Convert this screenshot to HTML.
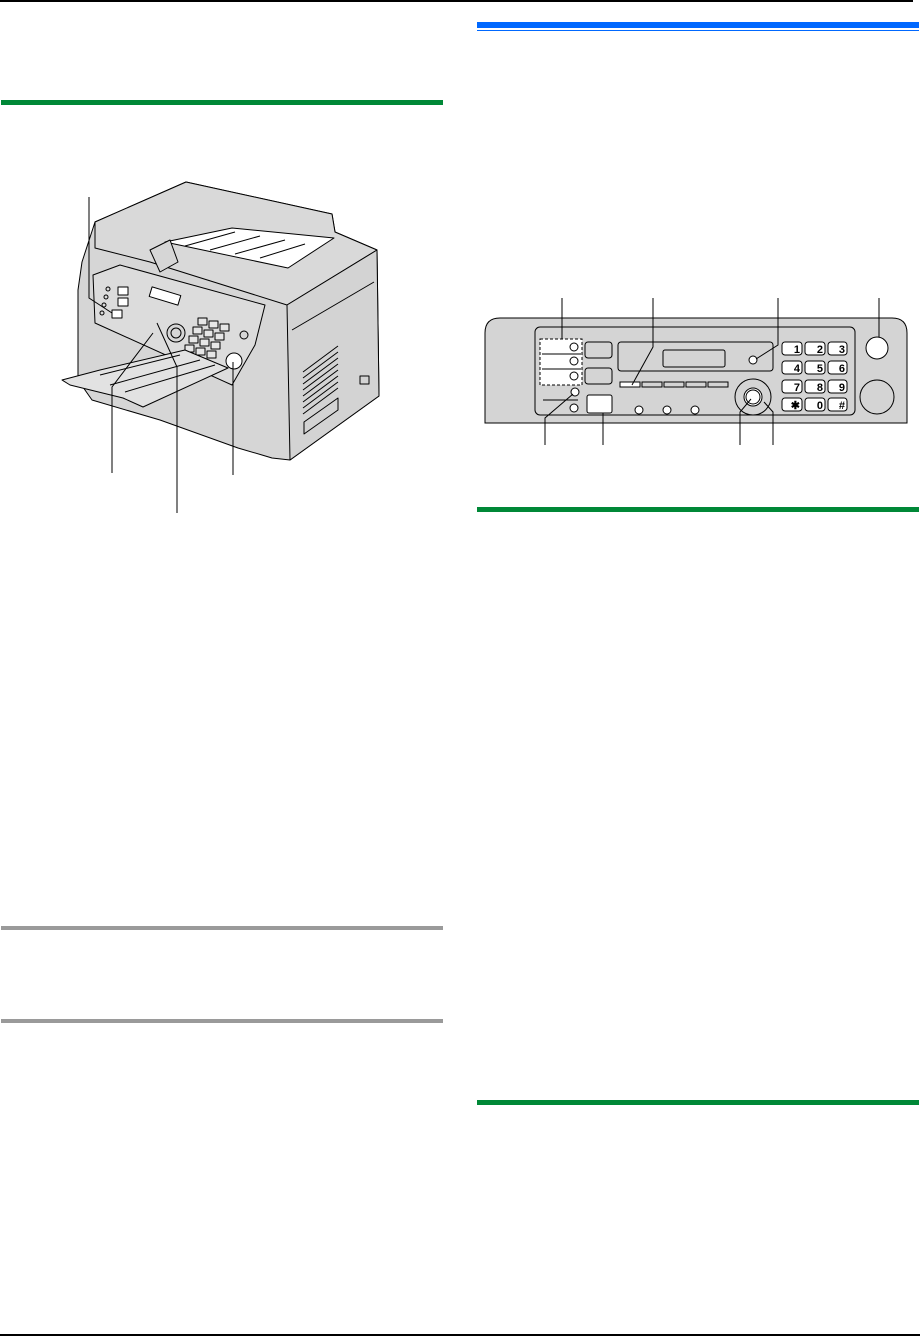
<!DOCTYPE html>
<html><head><meta charset="utf-8"><style>
html,body{margin:0;padding:0;background:#fff;}
body{width:920px;height:1336px;position:relative;overflow:hidden;font-family:"Liberation Sans",sans-serif;}
.b{position:absolute;}
</style></head><body>
<div class="b" style="left:0;top:0;width:913px;height:2px;background:#000"></div>
<div class="b" style="left:477px;top:22px;width:442px;height:6px;background:#0068ff"></div>
<div class="b" style="left:477px;top:30px;width:442px;height:1px;background:#0068ff"></div>
<div class="b" style="left:1px;top:100px;width:442px;height:5px;background:#008837"></div>
<div class="b" style="left:1px;top:926px;width:442px;height:4px;background:#9a9a9a"></div>
<div class="b" style="left:1px;top:1019px;width:442px;height:4px;background:#9a9a9a"></div>
<div class="b" style="left:477px;top:507px;width:442px;height:5px;background:#008837"></div>
<div class="b" style="left:477px;top:1100px;width:442px;height:5px;background:#008837"></div>
<div class="b" style="left:0;top:1334px;width:920px;height:2px;background:#000"></div>

<svg class="b" style="left:0;top:0" width="920" height="1336" viewBox="0 0 920 1336">
<g stroke="#000" stroke-width="1" fill="#d6d6d6" stroke-linejoin="round">
 <path d="M78 290 L82 262 L95 222 L186 182 L332 214 L335 232 L377 250 L379 396 L290 460 L272 458 L262 455 L238 448 L160 420 L92 400 L78 380 Z"/>
 <path d="M95 222 L186 182 L332 214 L335 232 L377 250 L287 305 L150 262 L95 248 Z" fill="#d9d9d9"/>
 <path d="M287 305 L377 250 L379 396 L290 460 Z" fill="#d3d3d3"/>
 <path d="M292 330 L374 282" fill="none"/>
 <g fill="none"><path d="M303 372 L338 346 M303 378 L338 352 M303 384 L338 358 M303 390 L338 364 M303 396 L338 370 M303 402 L338 376 M303 408 L338 382 M303 414 L338 388"/></g>
 <path d="M304 422 L338 398 L338 410 L304 434 Z" fill="none"/>
 <rect x="360" y="376" width="9" height="8" fill="none"/>
 <path d="M165 242 L232 228 L334 238 L288 268 Z" fill="#fff"/>
 <path d="M185 246 L235 232 M210 250 L260 236 M235 254 L285 240 M260 258 L305 244" fill="none"/>
 <path d="M150 250 L170 240 L178 262 L160 272 Z"/>
 <path d="M93 275 L120 265 L265 305 L255 345 L232 385 L95 323 Z" fill="#dcdcdc"/>
 <rect x="150" y="291" width="30" height="10" fill="#fff" transform="rotate(17 165 296)"/>
 <rect x="112" y="310" width="10" height="8" fill="#fff"/>
 <rect x="118" y="287" width="10" height="8" fill="#fff"/>
 <rect x="118" y="298" width="10" height="8" fill="#fff"/>
 <circle cx="108" cy="289" r="2" fill="none"/><circle cx="106" cy="297" r="2" fill="none"/><circle cx="104" cy="305" r="2" fill="none"/><circle cx="102" cy="313" r="2" fill="none"/>
 <circle cx="176" cy="333" r="9"/><circle cx="176" cy="333" r="5"/>
 <g fill="#e6e6e6">
  <rect x="198" y="318" width="9" height="7"/><rect x="209" y="321" width="9" height="7"/><rect x="220" y="324" width="9" height="7"/>
  <rect x="193" y="327" width="9" height="7"/><rect x="204" y="330" width="9" height="7"/><rect x="215" y="333" width="9" height="7"/>
  <rect x="189" y="336" width="9" height="7"/><rect x="200" y="339" width="9" height="7"/><rect x="211" y="342" width="9" height="7"/>
  <rect x="185" y="345" width="9" height="7"/><rect x="196" y="348" width="9" height="7"/><rect x="207" y="351" width="9" height="7"/>
 </g>
 <circle cx="244" cy="335" r="4"/><circle cx="234" cy="361" r="8" fill="#fff"/>
 <path d="M62 380 L100 370 L185 350 L228 368 L143 407 L123 398 L70 385 Z" fill="#e2e2e2"/>
 <path d="M100 375 L180 355 M110 385 L200 360 M125 392 L215 365" fill="none"/>
</g>
<g stroke="#000" stroke-width="1" fill="none">
 <path d="M89 197 L89 298 L112 313"/>
 <path d="M112 473 L112 387 L153 333"/>
 <path d="M177 513 L177 367 L157 323"/>
 <path d="M233 475 L233 362"/>
</g>

<g stroke="#000" stroke-width="1">
 <path d="M485 423 L485 333 Q485 318 500 318 L892 318 Q907 318 907 333 L907 423 Z" fill="#d4d4d4"/>
 <rect x="535" y="327" width="320" height="88" rx="5" fill="#d4d4d4"/>
 <rect x="540" y="339" width="42" height="46" fill="#fff" stroke-dasharray="3,2"/>
 <path d="M542 354 L581 354 M542 369 L581 369 M543 400 L578 400" fill="none"/>
 <circle cx="574" cy="347" r="4" fill="#fff"/><circle cx="574" cy="361" r="4" fill="#fff"/><circle cx="574" cy="376" r="4" fill="#fff"/>
 <circle cx="575" cy="392" r="4" fill="#fff"/><circle cx="574" cy="408" r="4" fill="#fff"/>
 <rect x="585" y="342" width="27" height="16" rx="3" fill="#d4d4d4"/>
 <rect x="585" y="368" width="27" height="16" rx="3" fill="#d4d4d4"/>
 <rect x="587" y="395" width="25" height="18" rx="2" fill="#fff"/>
 <rect x="618" y="342" width="155" height="29" rx="3" fill="#d4d4d4"/>
 <rect x="663" y="350" width="62" height="17" rx="2" fill="#d4d4d4"/>
 <circle cx="753" cy="360" r="4" fill="#fff"/>
 <rect x="620" y="382" width="20" height="5" fill="#fff"/><rect x="642" y="382" width="20" height="5" fill="#d4d4d4"/><rect x="664" y="382" width="20" height="5" fill="#d4d4d4"/><rect x="686" y="382" width="20" height="5" fill="#d4d4d4"/><rect x="708" y="382" width="20" height="5" fill="#d4d4d4"/>
 <circle cx="639" cy="410" r="4" fill="#fff"/><circle cx="667" cy="410" r="4" fill="#fff"/><circle cx="695" cy="410" r="4" fill="#fff"/>
 <circle cx="753" cy="397" r="18" fill="#d4d4d4"/><circle cx="753" cy="397" r="9" fill="#fff"/><circle cx="753" cy="397" r="7" fill="#fff"/>
 <circle cx="877" cy="348" r="11" fill="#fff"/><circle cx="877" cy="397" r="17" fill="#d4d4d4"/>
 <g fill="#fff">
  <rect x="782" y="342" width="20" height="13" rx="3"/><rect x="805" y="342" width="20" height="13" rx="3"/><rect x="828" y="342" width="19" height="13" rx="3"/>
  <rect x="782" y="361" width="20" height="13" rx="3"/><rect x="805" y="361" width="20" height="13" rx="3"/><rect x="828" y="361" width="19" height="13" rx="3"/>
  <rect x="782" y="380" width="20" height="13" rx="3"/><rect x="805" y="380" width="20" height="13" rx="3"/><rect x="828" y="380" width="19" height="13" rx="3"/>
  <rect x="782" y="398" width="20" height="13" rx="3"/><rect x="805" y="398" width="20" height="13" rx="3"/><rect x="828" y="398" width="19" height="13" rx="3"/>
 </g>
</g>
<g font-family="Liberation Sans, sans-serif" font-weight="bold" font-size="11" text-anchor="end" fill="#000">
 <text x="800" y="353">1</text><text x="823" y="353">2</text><text x="845" y="353">3</text>
 <text x="800" y="372">4</text><text x="823" y="372">5</text><text x="845" y="372">6</text>
 <text x="800" y="391">7</text><text x="823" y="391">8</text><text x="845" y="391">9</text>
 <text x="800" y="409">✱</text><text x="823" y="409">0</text><text x="845" y="409">#</text>
</g>
<g stroke="#000" stroke-width="1" fill="none">
 <path d="M562 298 L562 339"/>
 <path d="M653 298 L653 347 L632 385"/>
 <path d="M778 298 L778 345 L756 359"/>
 <path d="M879 298 L879 337"/>
 <path d="M545 445 L545 418 L573 394"/>
 <path d="M603 445 L603 413"/>
 <path d="M740 445 L740 412 L751 399"/>
 <path d="M773 445 L773 412 L764 402"/>
</g>
</svg>
</body></html>
